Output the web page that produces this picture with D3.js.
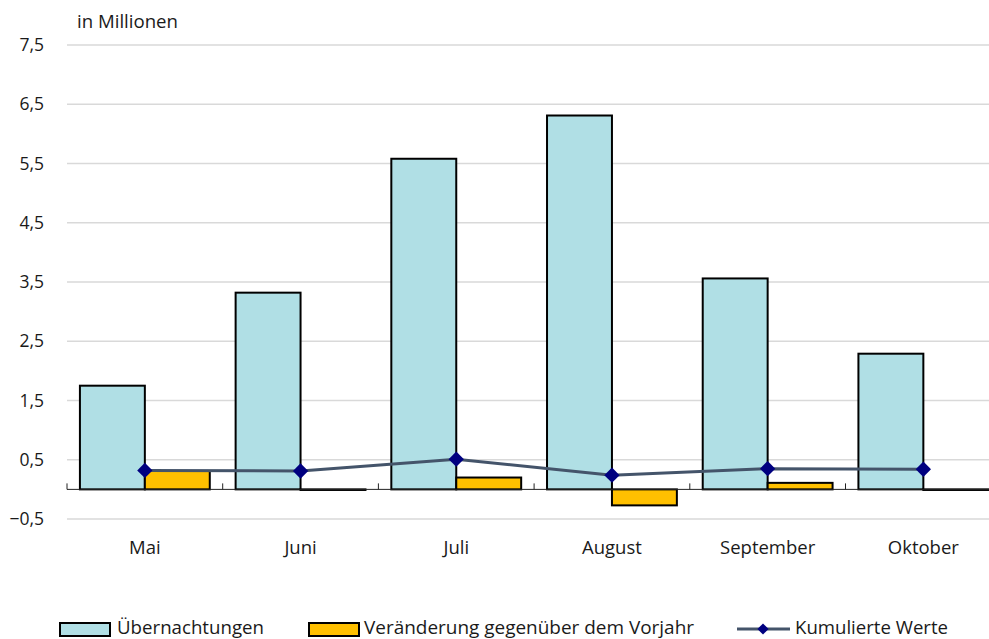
<!DOCTYPE html>
<meta charset="utf-8">
<style>
body { margin: 0; background: #fff; }
text { font-family: "Open Sans", "Noto Sans", sans-serif; fill: #1a1a1a; }
.grid line { stroke: #d9d9d9; stroke-width: 1.5px; }
</style>
<body>
<script src="https://d3js.org/d3.v7.min.js"></script>
<script>
var months = ["Mai", "Juni", "Juli", "August", "September", "Oktober"];
var uebernachtungen = [1.75, 3.32, 5.58, 6.31, 3.56, 2.29];
var veraenderung = [0.31, -0.01, 0.20, -0.27, 0.11, -0.01];
var kumuliert = [0.32, 0.31, 0.51, 0.24, 0.35, 0.34];
var yTicks = [-0.5, 0.5, 1.5, 2.5, 3.5, 4.5, 5.5, 6.5, 7.5];

var width = 989, height = 639;
var left = 67, step = 155.7;

var svg = d3.select("body").append("svg")
    .attr("width", width)
    .attr("height", height);

var x = d3.scaleBand()
    .domain(months)
    .range([left, left + step * months.length])
    .paddingInner(0.166)
    .paddingOuter(0.083);

var y = d3.scaleLinear()
    .domain([-0.5, 7.5])
    .range([519, 45]);

var fmt = function(d) { return d3.format(".1f")(d).replace(".", ","); };

// gridlines
svg.append("g").attr("class", "grid")
  .selectAll("line")
    .data(yTicks)
  .enter().append("line")
    .attr("x1", left).attr("x2", width)
    .attr("y1", function(d) { return y(d); })
    .attr("y2", function(d) { return y(d); });

svg.append("g")
  .selectAll("text")
    .data(yTicks)
  .enter().append("text")
    .attr("x", 44)
    .attr("y", function(d) { return y(d) + 6; })
    .attr("text-anchor", "end")
    .style("font-size", "17.5px")
    .text(fmt);

svg.append("text")
    .attr("x", 77).attr("y", 28)
    .attr("textLength", 101).attr("lengthAdjust", "spacingAndGlyphs")
    .style("font-size", "18.5px")
    .text("in Millionen");

var bw = x.bandwidth() / 2;

// Übernachtungen
svg.append("g")
  .selectAll("rect")
    .data(uebernachtungen)
  .enter().append("rect")
    .attr("x", function(d, i) { return x(months[i]); })
    .attr("y", function(d) { return y(d); })
    .attr("width", bw)
    .attr("height", function(d) { return y(0) - y(d); })
    .attr("fill", "#b0dfe5")
    .attr("stroke", "#000")
    .attr("stroke-width", 2);

// Veränderung
svg.append("g")
  .selectAll("rect")
    .data(veraenderung)
  .enter().append("rect")
    .attr("x", function(d, i) { return x(months[i]) + bw; })
    .attr("y", function(d) { return y(Math.max(0, d)); })
    .attr("width", bw)
    .attr("height", function(d) { return Math.abs(y(0) - y(d)); })
    .attr("fill", "#ffc000")
    .attr("stroke", "#000")
    .attr("stroke-width", 2);

// x axis line + ticks
var axis = svg.append("g");
axis.append("line")
    .attr("x1", left).attr("x2", width)
    .attr("y1", y(0)).attr("y2", y(0))
    .attr("stroke", "#222").attr("stroke-width", 1);
axis.selectAll(".tk")
    .data(d3.range(months.length + 1))
  .enter().append("line")
    .attr("x1", function(i) { return left + i * step; })
    .attr("x2", function(i) { return left + i * step; })
    .attr("y1", y(0)).attr("y2", y(0) - 6)
    .attr("stroke", "#222");

svg.append("g")
  .selectAll("text")
    .data(months)
  .enter().append("text")
    .attr("x", function(d) { return x(d) + x.bandwidth() / 2; })
    .attr("y", 554)
    .attr("text-anchor", "middle")
    .style("font-size", "18.5px")
    .text(function(d) { return d; });

// Kumulierte Werte
var line = d3.line()
    .x(function(d, i) { return x(months[i]) + bw; })
    .y(function(d) { return y(d); });

svg.append("path")
    .datum(kumuliert)
    .attr("d", line)
    .attr("fill", "none")
    .attr("stroke", "#44546a")
    .attr("stroke-width", 3);

var diamond = d3.symbol().type(d3.symbolDiamond2).size(150);
svg.append("g")
  .selectAll("path")
    .data(kumuliert)
  .enter().append("path")
    .attr("d", diamond)
    .attr("transform", function(d, i) { return "translate(" + (x(months[i]) + bw) + "," + y(d) + ")"; })
    .attr("fill", "#000080");

// legend
var lg = svg.append("g");
lg.append("rect").attr("x", 60).attr("y", 623).attr("width", 50).attr("height", 13)
    .attr("fill", "#b0dfe5").attr("stroke", "#000").attr("stroke-width", 2);
lg.append("text").attr("x", 117).attr("y", 634)
    .attr("textLength", 147).attr("lengthAdjust", "spacingAndGlyphs")
    .style("font-size", "19px").text("Übernachtungen");

lg.append("rect").attr("x", 309).attr("y", 623).attr("width", 50).attr("height", 13)
    .attr("fill", "#ffc000").attr("stroke", "#000").attr("stroke-width", 2);
lg.append("text").attr("x", 364).attr("y", 634)
    .attr("textLength", 330).attr("lengthAdjust", "spacingAndGlyphs")
    .style("font-size", "19px").text("Veränderung gegenüber dem Vorjahr");

lg.append("line").attr("x1", 737).attr("x2", 790).attr("y1", 629).attr("y2", 629)
    .attr("stroke", "#44546a").attr("stroke-width", 3);
lg.append("path").attr("d", d3.symbol().type(d3.symbolDiamond2).size(80))
    .attr("transform", "translate(763,629)").attr("fill", "#000080");
lg.append("text").attr("x", 795).attr("y", 634)
    .attr("textLength", 153).attr("lengthAdjust", "spacingAndGlyphs")
    .style("font-size", "19px").text("Kumulierte Werte");
</script>
